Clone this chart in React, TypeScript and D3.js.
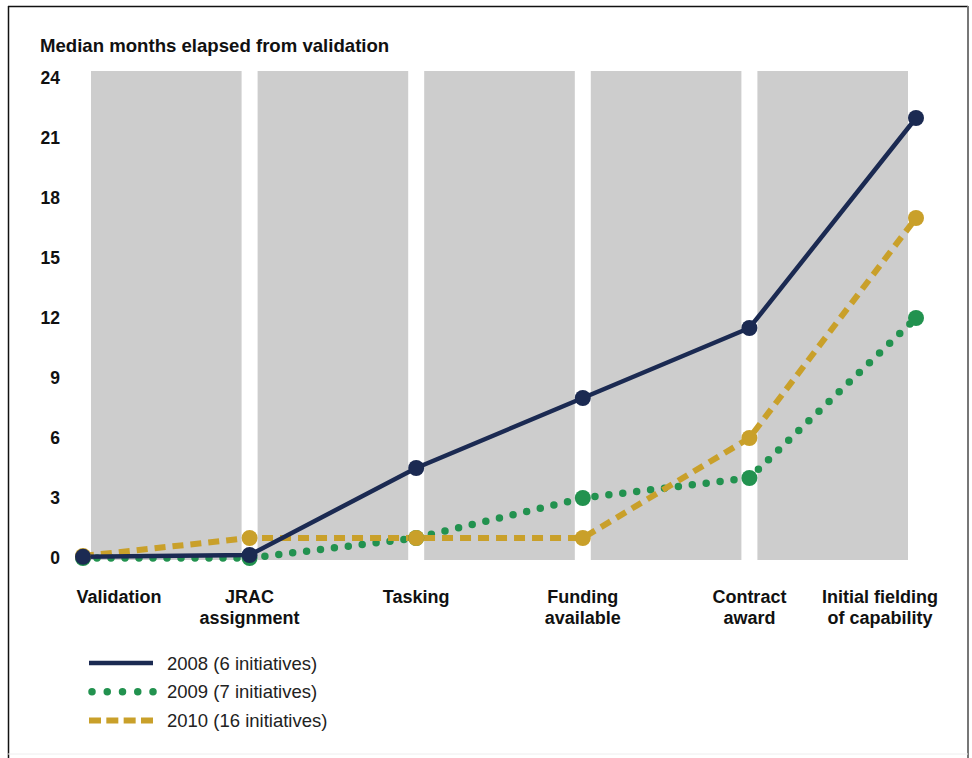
import React from "react";
import * as d3 from "d3";

const categories: string[][] = [
  ["Validation"],
  ["JRAC", "assignment"],
  ["Tasking"],
  ["Funding", "available"],
  ["Contract", "award"],
  ["Initial fielding", "of capability"],
];
const yTicks = [0, 3, 6, 9, 12, 15, 18, 21, 24];
const values2008 = [0.06, 0.15, 4.5, 8, 11.5, 22];
const values2009 = [0, 0, 1, 3, 4, 12];
const values2010 = [0.1, 1, 1, 1, 6, 17];
const seriesNames = ["2008 (6 initiatives)", "2009 (7 initiatives)", "2010 (16 initiatives)"];
const yTitle = "Median months elapsed from validation";

const NAVY = "#1b2a52";
const GREEN = "#22924f";
const GOLD = "#c9a02a";
const BAND = "#cdcdcd";
const FONT = "'Liberation Sans', Arial, sans-serif";

export default function App() {
  const W = 972;
  const H = 758;
  const keys = categories.map((c) => c.join(" "));
  const x = d3.scalePoint<string>().domain(keys).range([83, 916]);
  const y = d3.scaleLinear().domain([0, 24]).range([558, 78]);
  const line = d3
    .line<number>()
    .x((_, i) => x(keys[i]) as number)
    .y((d) => y(d));

  const series = [
    { name: seriesNames[1], values: values2009, color: GREEN, width: 7.5, dash: "0 14", cap: "round" as const },
    { name: seriesNames[2], values: values2010, color: GOLD, width: 6, dash: "11 7", cap: "butt" as const },
    { name: seriesNames[0], values: values2008, color: NAVY, width: 4.5, dash: undefined, cap: "butt" as const },
  ];
  const legendOrder = [series[2], series[0], series[1]];

  const bandTop = y(24) - 7;
  const bandBottom = y(0) + 2;

  return (
    <svg
      width={W}
      height={H}
      style={{ position: "absolute", left: 0, top: 0, background: "#fff" }}
      fontFamily={FONT}
    >
      {/* frame */}
      <line x1={8} y1={6.5} x2={968} y2={6.5} stroke="#111" strokeWidth={1.5} />
      <line x1={8.5} y1={6} x2={8.5} y2={758} stroke="#111" strokeWidth={1.5} />
      <line x1={968} y1={6} x2={968} y2={758} stroke="#777" strokeWidth={2} />
      <line x1={8} y1={754} x2={968} y2={754} stroke="#eee" strokeWidth={1} />

      {/* title */}
      <text x={40} y={52} fontSize={18.6} fontWeight="bold" fill="#111">
        {yTitle}
      </text>

      {/* bands */}
      {keys.slice(0, -1).map((k, i) => {
        const x0 = (x(k) as number) + 8;
        const x1 = (x(keys[i + 1]) as number) - 8;
        return <rect key={k} x={x0} y={bandTop} width={x1 - x0} height={bandBottom - bandTop} fill={BAND} />;
      })}

      {/* y ticks */}
      {yTicks.map((t) => (
        <text
          key={t}
          x={60}
          y={y(t)}
          textAnchor="end"
          dominantBaseline="central"
          fontSize={17.5}
          fontWeight="bold"
          fill="#111"
        >
          {t}
        </text>
      ))}

      {/* category labels */}
      {categories.map((lines, i) => {
        const cx = (x(keys[i]) as number) + (i === 0 ? 36 : i === categories.length - 1 ? -36 : 0);
        return (
          <text key={keys[i]} textAnchor="middle" fontSize={18} fontWeight="bold" fill="#111">
            {lines.map((l, j) => (
              <tspan key={j} x={cx} y={603 + j * 21}>
                {l}
              </tspan>
            ))}
          </text>
        );
      })}

      {/* lines */}
      {series.map((s) => (
        <path
          key={s.name}
          d={line(s.values) || ""}
          fill="none"
          stroke={s.color}
          strokeWidth={s.width}
          strokeDasharray={s.dash}
          strokeLinecap={s.cap}
        />
      ))}

      {/* markers */}
      {series.map((s) =>
        s.values.map((v, i) => (
          <circle key={s.name + i} cx={x(keys[i]) as number} cy={y(v)} r={8} fill={s.color} />
        ))
      )}

      {/* legend */}
      {legendOrder.map((s, i) => {
        const ly = 663 + i * 28.7;
        const dotted = s.cap === "round";
        return (
          <g key={s.name}>
            <line
              x1={dotted ? 92 : 89}
              x2={dotted ? 154 : 153}
              y1={ly}
              y2={ly}
              stroke={s.color}
              strokeWidth={s.width}
              strokeDasharray={dotted ? "0 15.25" : s.dash ? "12 5.33" : undefined}
              strokeLinecap={s.cap}
            />
            <text x={167} y={ly} dominantBaseline="central" fontSize={18.5} fill="#222">
              {s.name}
            </text>
          </g>
        );
      })}
    </svg>
  );
}
